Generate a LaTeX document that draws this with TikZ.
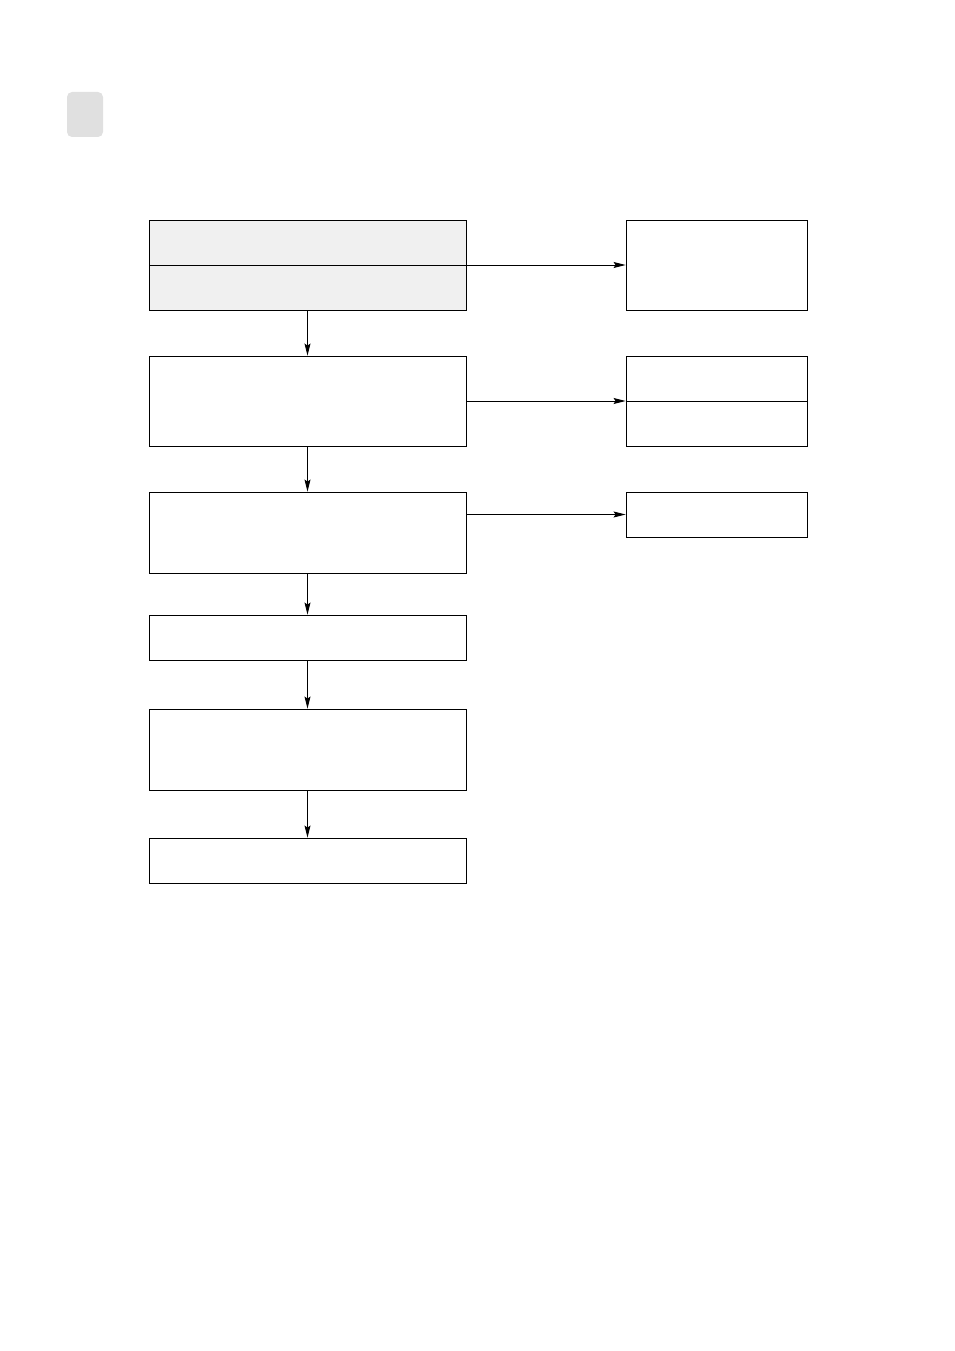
\documentclass[tikz,border=0pt]{standalone}
\usetikzlibrary{arrows.meta}
\begin{document}
\begin{tikzpicture}[x=1pt,y=-1pt,line width=0.9pt,
  bx/.style={draw,black},
  arr/.style={-{Stealth[length=12pt,width=6pt,inset=2pt]}}]
\useasboundingbox (0,0) rectangle (954,1351);
\fill[fill=black!12,rounded corners=5pt] (67,92) rectangle (103,137);
\draw[bx,fill=black!6] (149,220) rectangle (466,310);
\node[inner sep=0,minimum width=317pt,minimum height=90pt] (A) at (307.5,265) {};
\draw[bx] (149,265) -- (466,265);
\draw[bx] (626,220) rectangle (807,310);
\node[inner sep=0,minimum width=181pt,minimum height=90pt] (R1) at (716.5,265) {};
\draw[bx] (149,356) rectangle (466,446);
\node[inner sep=0,minimum width=317pt,minimum height=90pt] (B) at (307.5,401) {};
\draw[bx] (626,356) rectangle (807,446);
\draw[bx] (626,401) -- (807,401);
\node[inner sep=0,minimum width=181pt,minimum height=90pt] (R2) at (716.5,401) {};
\draw[bx] (149,492) rectangle (466,573);
\node[inner sep=0,minimum width=317pt,minimum height=81pt] (C) at (307.5,532.5) {};
\draw[bx] (626,492) rectangle (807,537);
\node[inner sep=0,minimum width=181pt,minimum height=45pt] (R3) at (716.5,514.5) {};
\draw[bx] (149,615) rectangle (466,660);
\node[inner sep=0,minimum width=317pt,minimum height=45pt] (D) at (307.5,637.5) {};
\draw[bx] (149,709) rectangle (466,790);
\node[inner sep=0,minimum width=317pt,minimum height=81pt] (E) at (307.5,749.5) {};
\draw[bx] (149,838) rectangle (466,883);
\node[inner sep=0,minimum width=317pt,minimum height=45pt] (F) at (307.5,860.5) {};
\draw[arr] (A.east) -- (R1.west);
\draw[arr] (B.east) -- (R2.west);
\draw[arr] (C.east |- R3.west) -- (R3.west);
\draw[arr] (A.south) -- (B.north);
\draw[arr] (B.south) -- (C.north);
\draw[arr] (C.south) -- (D.north);
\draw[arr] (D.south) -- (E.north);
\draw[arr] (E.south) -- (F.north);
\end{tikzpicture}
\end{document}
